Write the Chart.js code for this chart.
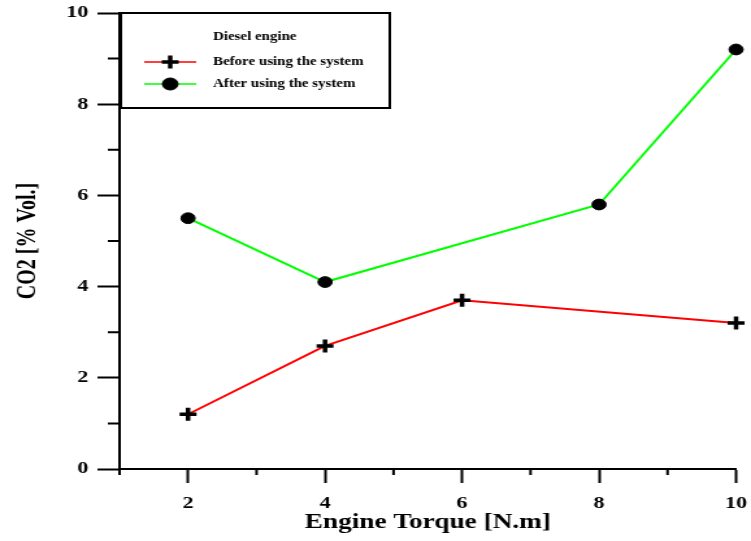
<!DOCTYPE html>
<html>
<head>
<meta charset="utf-8">
<script src="https://cdn.jsdelivr.net/npm/chart.js@4.4.1/dist/chart.umd.min.js"></script>
<style>
  html, body { margin: 0; padding: 0; background: #fff; }
  /* the original picture is stretched sideways, so the canvas is drawn narrow and widened by css */
  #myChart { width: 751px; height: 541px; display: block; }
</style>
</head>
<body>
<canvas id="myChart" width="578" height="541" style="width:751px;height:541px"></canvas>
<script>
const torqueBefore = [2, 4, 6, 10];
const co2Before = [1.2, 2.7, 3.7, 3.2];
const torqueAfter = [2, 4, 8, 10];
const co2After = [5.5, 4.1, 5.8, 9.2];
const xMajorTicks = [2, 4, 6, 8, 10];
const yMajorTicks = [0, 2, 4, 6, 8, 10];
const legendTitle = "Diesel engine";
const seriesNames = ["Before using the system", "After using the system"];

const serif = "'Liberation Serif', 'Times New Roman', serif";

// short ticks on the odd values
const minorTicks = {
  id: "minorTicks",
  afterDraw(chart) {
    const ctx = chart.ctx;
    const x = chart.scales.x;
    const y = chart.scales.y;
    ctx.save();
    ctx.strokeStyle = "#000";
    ctx.lineWidth = 2;
    ctx.beginPath();
    x.ticks.forEach(t => {
      if (xMajorTicks.includes(t.value)) return;
      const px = x.getPixelForValue(t.value);
      ctx.moveTo(px, x.top);
      ctx.lineTo(px, x.top + 6);
    });
    y.ticks.forEach(t => {
      if (yMajorTicks.includes(t.value)) return;
      const py = y.getPixelForValue(t.value);
      ctx.moveTo(y.right - 9, py);
      ctx.lineTo(y.right, py);
    });
    ctx.stroke();
    ctx.restore();
  }
};

// boxed legend in the top left corner of the plot
const boxLegend = {
  id: "boxLegend",
  afterDraw(chart) {
    const ctx = chart.ctx;
    const area = chart.chartArea;
    const left = area.left + 1, top = area.top, w = 207, h = 95;
    ctx.save();
    ctx.fillStyle = "#fff";
    ctx.fillRect(left, top, w, h);
    ctx.strokeStyle = "#000";
    ctx.lineWidth = 2;
    ctx.strokeRect(left, top, w, h);

    ctx.fillStyle = "#000";
    ctx.textBaseline = "middle";
    ctx.textAlign = "left";
    ctx.font = "bold 11.5px " + serif;
    ctx.fillText(legendTitle, left + 71, top + 24);

    chart.data.datasets.forEach((ds, i) => {
      const cy = top + 49 + i * 22;
      ctx.strokeStyle = ds.borderColor;
      ctx.lineWidth = 1.5;
      ctx.beginPath();
      ctx.moveTo(left + 18, cy);
      ctx.lineTo(left + 58, cy);
      ctx.stroke();

      ctx.strokeStyle = ds.pointBorderColor;
      ctx.fillStyle = ds.pointBackgroundColor;
      ctx.lineWidth = ds.pointBorderWidth;
      Chart.helpers.drawPoint(ctx, {
        pointStyle: ds.pointStyle,
        radius: ds.pointStyle === "circle" ? 6 : 6.5,
        borderWidth: ds.pointBorderWidth,
        rotation: 0
      }, left + 38, cy);

      ctx.fillStyle = "#000";
      ctx.fillText(ds.label, left + 71, cy);
    });
    ctx.restore();
  }
};

const map = document.getElementById("myChart");

const myChart = new Chart(map, {
  type: "line",
  data: {
    datasets: [
      {
        label: seriesNames[0],
        data: torqueBefore.map((t, i) => ({ x: t, y: co2Before[i] })),
        borderColor: "#ff0000",
        borderWidth: 2,
        pointStyle: "cross",
        pointRadius: 6.5,
        pointBorderWidth: 3.5,
        pointBorderColor: "#000",
        pointBackgroundColor: "#000",
        tension: 0,
        clip: false
      },
      {
        label: seriesNames[1],
        data: torqueAfter.map((t, i) => ({ x: t, y: co2After[i] })),
        borderColor: "#00ff00",
        borderWidth: 2,
        pointStyle: "circle",
        pointRadius: 5.4,
        pointBorderWidth: 1,
        pointBorderColor: "#000",
        pointBackgroundColor: "#000",
        tension: 0,
        clip: false
      }
    ]
  },
  options: {
    responsive: false,
    animation: false,
    devicePixelRatio: 1,
    layout: { padding: { left: 0, right: 11.5, top: 13, bottom: 0 } },
    plugins: {
      legend: { display: false },
      tooltip: { enabled: false }
    },
    scales: {
      x: {
        type: "linear",
        min: 1,
        max: 10,
        afterFit: s => { s.height = 72; s.paddingLeft = 0; s.paddingRight = 0; },
        border: { display: true, color: "#000", width: 2 },
        grid: {
          drawOnChartArea: false,
          drawTicks: true,
          tickLength: 14,
          tickWidth: 2,
          tickColor: c => xMajorTicks.includes(c.tick.value) ? "#000" : "rgba(0,0,0,0)"
        },
        ticks: {
          stepSize: 1,
          autoSkip: false,
          maxRotation: 0,
          padding: 10,
          color: "#000",
          font: { family: serif, size: 17, weight: "bold" },
          callback: v => xMajorTicks.includes(v) ? String(v) : ""
        },
        title: {
          display: true,
          text: "Engine Torque [N.m]",
          color: "#000",
          font: { family: serif, size: 21, weight: "bold" },
          padding: { top: 0, bottom: 6 }
        }
      },
      y: {
        min: 0,
        max: 10,
        afterFit: s => { s.width = 92; s.paddingTop = 0; s.paddingBottom = 0; },
        border: { display: true, color: "#000", width: 2 },
        grid: {
          drawOnChartArea: false,
          drawTicks: true,
          tickLength: 17,
          tickWidth: 2,
          tickColor: c => yMajorTicks.includes(c.tick.value) ? "#000" : "rgba(0,0,0,0)"
        },
        ticks: {
          stepSize: 1,
          autoSkip: false,
          padding: 7,
          color: "#000",
          font: { family: serif, size: 17, weight: "bold" },
          callback: v => yMajorTicks.includes(v) ? String(v) : ""
        },
        title: {
          display: true,
          text: "CO2 [% Vol.]",
          color: "#000",
          font: { family: serif, size: 20, weight: "bold" },
          padding: { top: 9.5, bottom: 0 }
        }
      }
    }
  },
  plugins: [minorTicks, boxLegend]
});
</script>
</body>
</html>
